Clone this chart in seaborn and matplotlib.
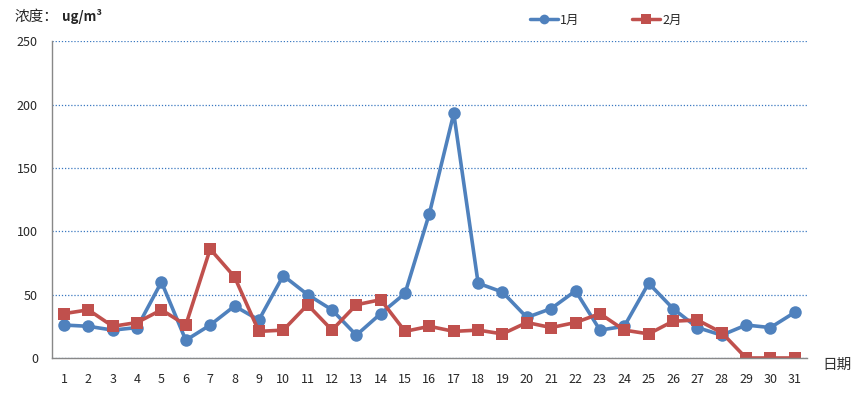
import numpy as np
import pandas as pd
import seaborn as sns
import matplotlib.pyplot as plt
from matplotlib.ticker import MultipleLocator, FixedLocator

days = list(range(1, 32))
jan = [26, 25, 22, 24, 60, 14, 26, 41, 30, 65, 50, 38, 18, 35, 51, 114,
       193, 59, 52, 32, 39, 53, 22, 25, 59, 39, 24, 18, 26, 24, 36]
feb = [35, 38, 25, 28, 38, 26, 86, 64, 21, 22, 42, 22, 42, 46, 21, 25,
       21, 22, 19, 28, 24, 28, 35, 22, 19, 29, 30, 20, 0, 0, 0]
months = ["1月", "2月"]

d = pd.DataFrame({
    "day": days * 2,
    "value": jan + feb,
    "month": [months[0]] * len(days) + [months[1]] * len(days),
})

sns.set_style("white")
plt.rcParams["font.family"] = ["Noto Sans CJK SC", "DejaVu Sans"]

fig = plt.figure(figsize=(8.64, 3.96), dpi=100)
ax = fig.add_axes([0.060, 0.096, 0.874, 0.800])

pal = {"1月": "#4F81BD", "2月": "#C0504D"}
sns.lineplot(
    data=d, x="day", y="value", hue="month", style="month",
    palette=pal, markers={"1月": "o", "2月": "s"}, dashes=False,
    linewidth=2.6, markersize=9, markeredgewidth=0, ax=ax, legend=False,
)

ax.set_xlim(0.5, 31.5)
ax.set_ylim(0, 250)
ax.yaxis.set_major_locator(MultipleLocator(50))
ax.set_xticks(days)
ax.xaxis.set_minor_locator(FixedLocator(np.arange(0.5, 32, 1)))
ax.tick_params(axis="x", which="major", length=0, pad=11, labelsize=9)
ax.tick_params(axis="x", which="minor", length=5, color="#888888", direction="out")
ax.tick_params(axis="y", length=4, color="#888888", direction="out", labelsize=9, pad=6)
ax.set_xlabel("")
ax.set_ylabel("")

for s in ["top", "right"]:
    ax.spines[s].set_visible(False)
for s in ["left", "bottom"]:
    ax.spines[s].set_color("#888888")
    ax.spines[s].set_linewidth(1)

ax.yaxis.grid(True, linestyle=(0, (1, 1.5)), color="#3A78C0", linewidth=0.9)
ax.set_axisbelow(True)

fig.text(15 / 864, 1 - 17 / 396, "浓度：", fontsize=10.5, va="center", ha="left")
fig.text(62 / 864, 1 - 17 / 396, "ug/m³", fontsize=9.5, fontweight="bold", va="center", ha="left")
fig.text(822 / 864, 1 - 365 / 396, "日期", fontsize=10.5, color="#333333", va="center", ha="left")

handles = [
    plt.Line2D([], [], color=pal[m], marker=mk, linewidth=2.5, markersize=7, markeredgewidth=0)
    for m, mk in zip(months, ["o", "s"])
]
fig.legend(handles, months, loc="center", bbox_to_anchor=(606 / 864, 1 - 20 / 396),
           ncol=2, frameon=False, fontsize=9, handlelength=2.2, handletextpad=0.2,
           columnspacing=4.2)

fig.savefig("out.png", dpi=100)
